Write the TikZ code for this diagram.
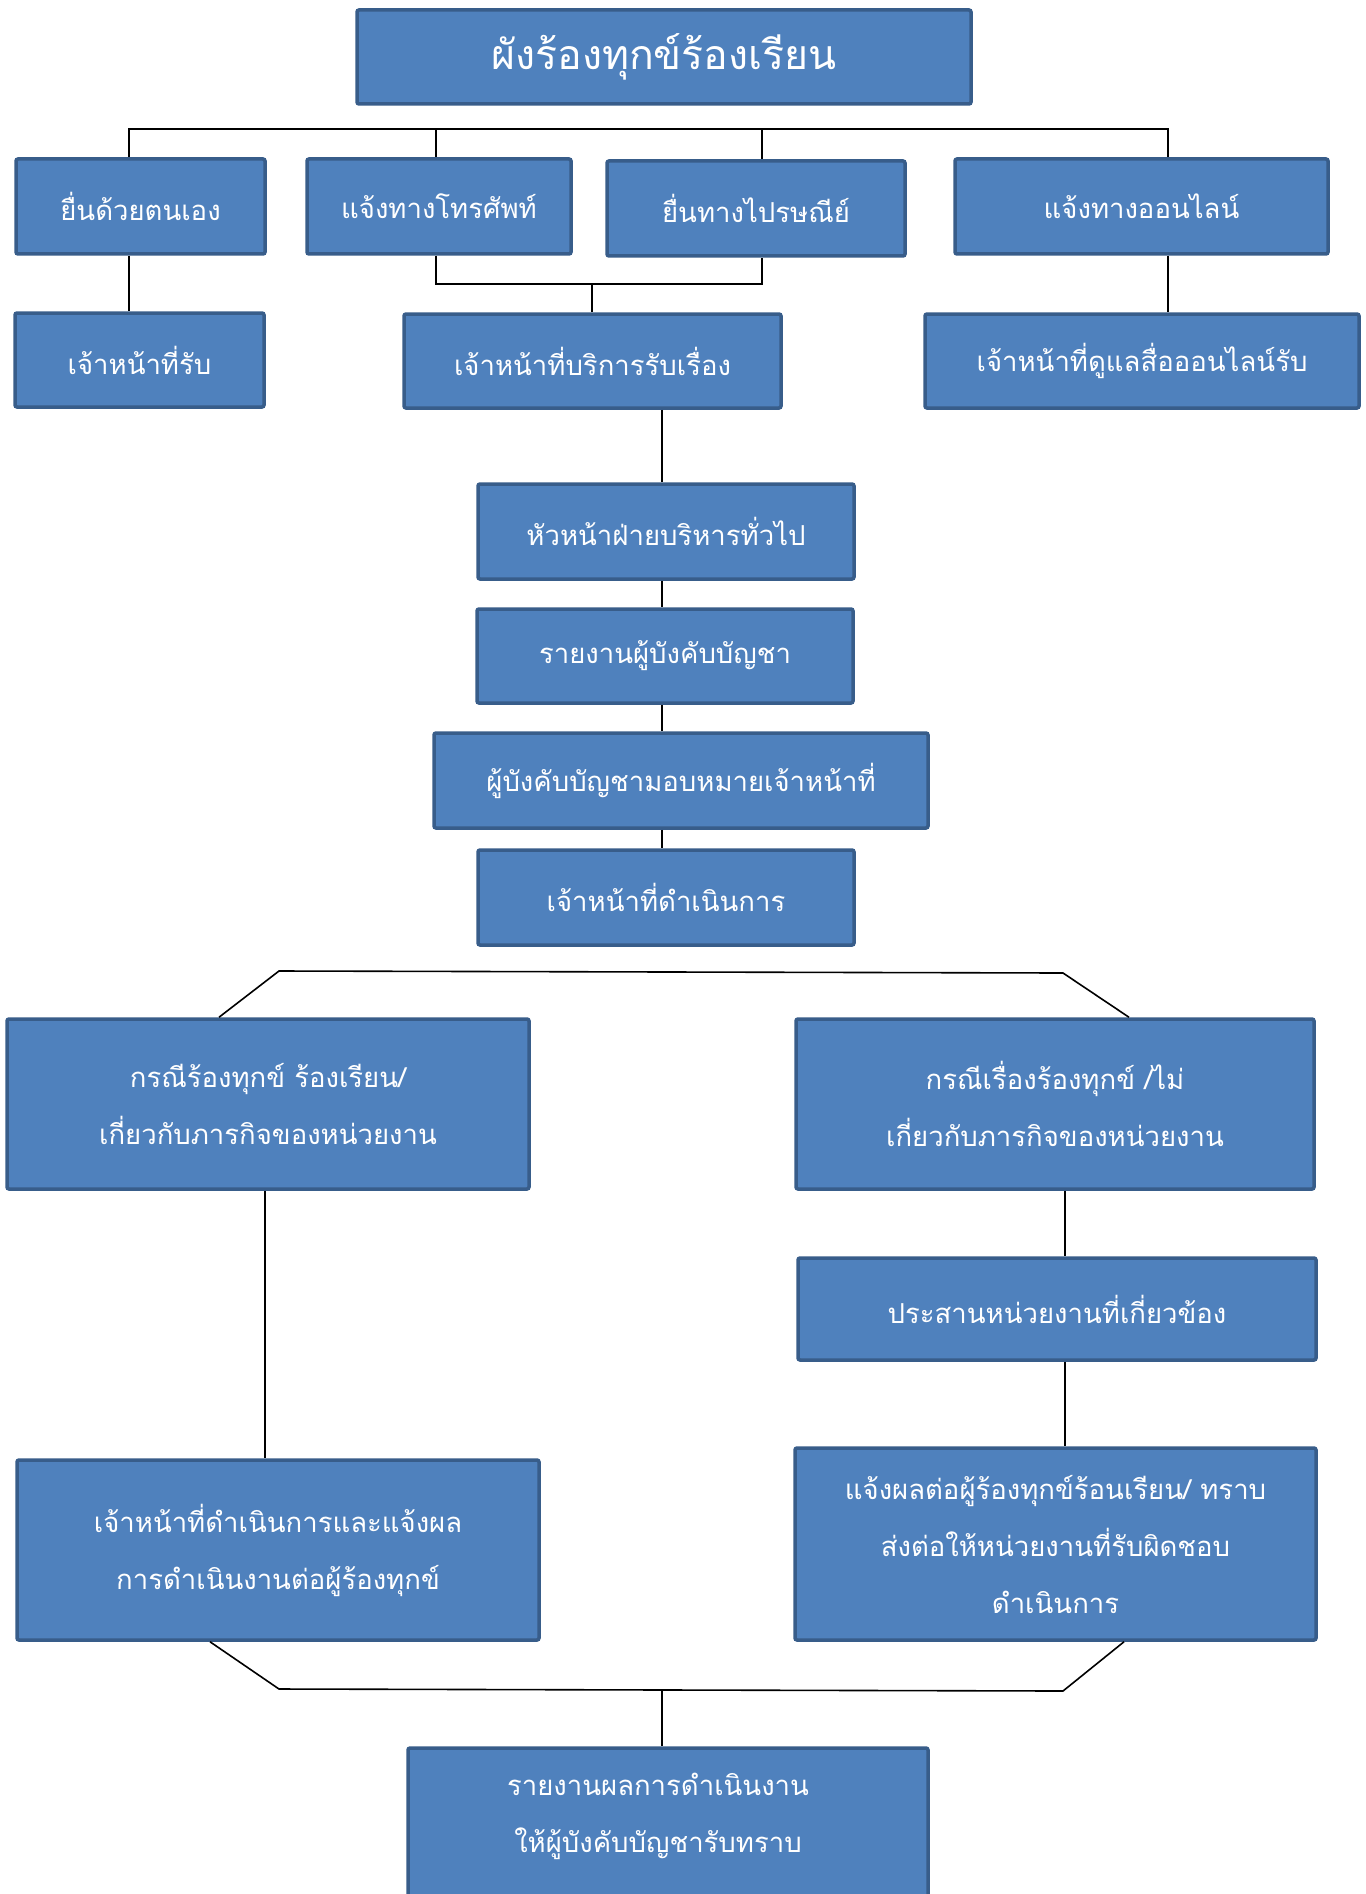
\documentclass[tikz,border=0pt]{standalone}
\usepackage{fontspec}
\newfontfamily\thaifont[Script=Thai]{Loma}
\definecolor{boxfill}{HTML}{4F81BD}
\definecolor{boxline}{HTML}{385D8A}
\tikzset{
  box/.style={draw=boxline, fill=boxfill, line width=3.5pt, rounded corners=2pt,
    text=white, align=center, inner sep=0pt, font=\thaifont\fontsize{27.5}{57}\selectfont},
  titlebox/.style={box, font=\thaifont\fontsize{41}{50}\selectfont},
  conn/.style={draw=black, line width=1.6pt}
}
\newcommand{\bx}[7][box]{%
  \node[#1, minimum width={#5-#3}, minimum height={#6-#4}] (#2) at ({(#3+#5)/2},{(#4+#6)/2}) {#7};}
\begin{document}
\begin{tikzpicture}[x=1pt,y=-1pt]
\useasboundingbox (0,0) rectangle (1365,1894);
\clip (0,0) rectangle (1365,1894);
\fill[white] (0,0) rectangle (1365,1894);

% boxes
\bx[titlebox]{title}{357}{10}{971}{104}{ผังร้องทุกข์ร้องเรียน}
\bx{b1}{16}{159}{265}{254}{ยื่นด้วยตนเอง}
\bx{b2}{307}{159}{571}{254}{แจ้งทางโทรศัพท์}
\bx{b3}{607}{161}{905}{256}{ยื่นทางไปรษณีย์}
\bx{b4}{955}{159}{1328}{254}{แจ้งทางออนไลน์}
\bx{b5}{15}{313}{264}{407}{เจ้าหน้าที่รับ}
\bx{b6}{404}{314}{781}{408}{เจ้าหน้าที่บริการรับเรื่อง}
\bx{b7}{925}{314}{1359}{408}{เจ้าหน้าที่ดูแลสื่อออนไลน์รับ}
\bx{c1}{478}{484}{854}{579}{หัวหน้าฝ่ายบริหารทั่วไป}
\bx{c2}{477}{609}{853}{703}{รายงานผู้บังคับบัญชา}
\bx{c3}{434}{733}{928}{828}{ผู้บังคับบัญชามอบหมายเจ้าหน้าที่}
\bx{c4}{478}{850}{854}{945}{เจ้าหน้าที่ดำเนินการ}
\bx{lc}{7}{1019}{529}{1189}{กรณีร้องทุกข์ ร้องเรียน/\\เกี่ยวกับภารกิจของหน่วยงาน}
\bx{rc}{796}{1019}{1314}{1189}{กรณีเรื่องร้องทุกข์ /ไม่\\เกี่ยวกับภารกิจของหน่วยงาน}
\bx{ps}{798}{1258}{1316}{1360}{ประสานหน่วยงานที่เกี่ยวข้อง}
\bx{lb}{17}{1460}{539}{1640}{เจ้าหน้าที่ดำเนินการและแจ้งผล\\การดำเนินงานต่อผู้ร้องทุกข์}
\bx{rb}{795}{1448}{1316}{1640}{แจ้งผลต่อผู้ร้องทุกข์ร้อนเรียน/ ทราบ\\ส่งต่อให้หน่วยงานที่รับผิดชอบ\\ดำเนินการ}
\bx{fin}{408}{1748}{928}{1960}{}
\node[text=white, align=center, font=\thaifont\fontsize{27.5}{57}\selectfont, anchor=north] (fintext) at (658,1770) {รายงานผลการดำเนินงาน\\ให้ผู้บังคับบัญชารับทราบ};

% connector coordinates
\coordinate (xa) at (129,129);
\coordinate (xb) at (436,129);
\coordinate (xc) at (762,129);
\coordinate (xd) at (1168,129);
\coordinate (k2) at (436,284);
\coordinate (k3) at (762,284);
\coordinate (km) at (592,284);
\coordinate (mx) at (662,0);
\coordinate (t1) at (279,971);
\coordinate (t2) at (1063,973);
\coordinate (p1) at (219,0);
\coordinate (p2) at (1129,0);
\coordinate (lx) at (265,0);
\coordinate (rx) at (1065,0);
\coordinate (u1) at (279,1689);
\coordinate (u2) at (1063,1691);
\coordinate (q1) at (210,0);
\coordinate (q2) at (1124,0);
\coordinate (um) at (662,1690);

% connectors
\draw[conn] (b1.north -| xa) -- (xa) -- (xd) -- (b4.north -| xd);
\draw[conn] (xb) -- (b2.north -| xb);
\draw[conn] (xc) -- (b3.north -| xc);
\draw[conn] (b1.south -| xa) -- (b5.north -| xa);
\draw[conn] (b4.south -| xd) -- (b7.north -| xd);
\draw[conn] (b2.south -| k2) -- (k2) -- (k3) -- (b3.south -| k3);
\draw[conn] (km) -- (b6.north -| km);
\draw[conn] (b6.south -| mx) -- (c1.north -| mx);
\draw[conn] (c1.south -| mx) -- (c2.north -| mx);
\draw[conn] (c2.south -| mx) -- (c3.north -| mx);
\draw[conn] (c3.south -| mx) -- (c4.north -| mx);
\draw[conn] (lc.north -| p1) -- (t1) -- (t2) -- (rc.north -| p2);
\draw[conn] (lc.south -| lx) -- (lb.north -| lx);
\draw[conn] (rc.south -| rx) -- (ps.north -| rx);
\draw[conn] (ps.south -| rx) -- (rb.north -| rx);
\draw[conn] (lb.south -| q1) -- (u1) -- (u2) -- (rb.south -| q2);
\draw[conn] (um) -- (fin.north -| um);
\end{tikzpicture}
\end{document}
